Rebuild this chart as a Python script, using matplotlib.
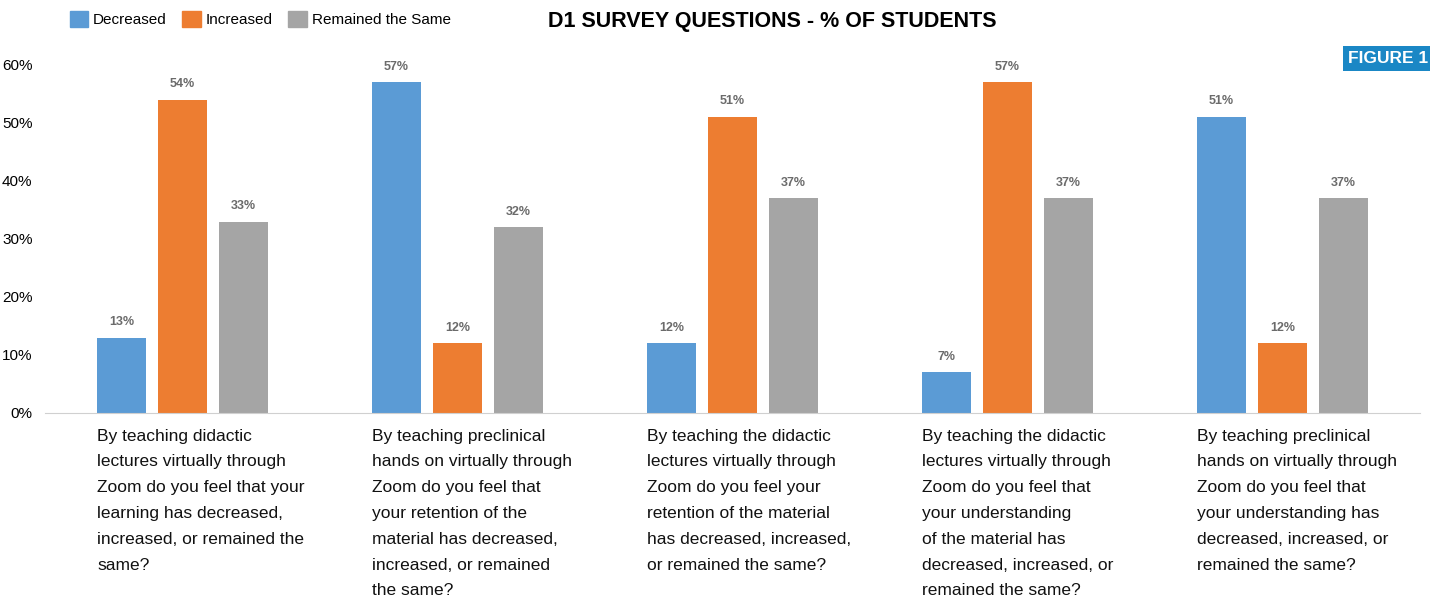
import numpy as np
import matplotlib.pyplot as plt
from matplotlib.patches import Patch

plt.rcParams['font.family'] = ['Liberation Sans Narrow', 'Liberation Sans', 'DejaVu Sans']

questions = [
    "By teaching didactic\nlectures virtually through\nZoom do you feel that your\nlearning has decreased,\nincreased, or remained the\nsame?",
    "By teaching preclinical\nhands on virtually through\nZoom do you feel that\nyour retention of the\nmaterial has decreased,\nincreased, or remained\nthe same?",
    "By teaching the didactic\nlectures virtually through\nZoom do you feel your\nretention of the material\nhas decreased, increased,\nor remained the same?",
    "By teaching the didactic\nlectures virtually through\nZoom do you feel that\nyour understanding\nof the material has\ndecreased, increased, or\nremained the same?",
    "By teaching preclinical\nhands on virtually through\nZoom do you feel that\nyour understanding has\ndecreased, increased, or\nremained the same?",
]
series = ["Decreased", "Increased", "Remained the Same"]
decreased = [13, 57, 12, 7, 51]
increased = [54, 12, 51, 57, 12]
remained = [33, 32, 37, 37, 37]
yticks = [0, 10, 20, 30, 40, 50, 60]

colors = ['#5b9bd5', '#ed7d31', '#a5a5a5']

fig = plt.figure(figsize=(14.3, 6.01), dpi=100)
ax = fig.add_axes([45 / 1430, 1 - 413 / 601, 1375 / 1430, 348 / 601])

x = np.arange(len(questions))
w = 0.175
step = 0.222
for i, (name, vals) in enumerate(zip(series, [decreased, increased, remained])):
    bars = ax.bar(x + (i - 1) * step, vals, w, color=colors[i], label=name)
    for b, v in zip(bars, vals):
        ax.annotate(f"{v}%", (b.get_x() + b.get_width() / 2, v), xytext=(0, 7),
                    textcoords='offset points', ha='center', va='bottom',
                    fontsize=9, fontweight='bold', color='#6b6b6b')

ax.set_xlim(-0.5, len(questions) - 0.5)
ax.set_ylim(0, 60)
ax.set_yticks(yticks)
ax.set_yticklabels([f"{t}%" for t in yticks], fontsize=11)
ax.tick_params(axis='y', length=0, pad=9)
ax.set_xticks([])
for s in ['top', 'right', 'left']:
    ax.spines[s].set_visible(False)
ax.spines['bottom'].set_color('#d0d0d0')

for xi, q in zip(x, questions):
    ax.text(xi - step - w / 2, -0.045, q, transform=ax.get_xaxis_transform(),
            ha='left', va='top', fontsize=12.5, linespacing=1.9, color='#111111')

handles = [Patch(color=c) for c in colors]
fig.legend(handles, series, loc='upper left', bbox_to_anchor=(0.039, 1.005), ncol=3,
           frameon=False, fontsize=11, handlelength=1.2, handleheight=1.3,
           columnspacing=1.0, handletextpad=0.35)

fig.text(0.54, 0.965, "D1 SURVEY QUESTIONS - % OF STUDENTS", ha='center', va='center',
         fontsize=15.5, fontweight='bold', family=['Liberation Sans', 'DejaVu Sans'])
fig.text(0.999, 0.903, "FIGURE 1", ha='right', va='center', fontsize=12.5, fontweight='bold',
         color='white', bbox=dict(boxstyle='square,pad=0.3', facecolor='#1a87c5', edgecolor='none'))

fig.savefig('out.png', dpi=100)
